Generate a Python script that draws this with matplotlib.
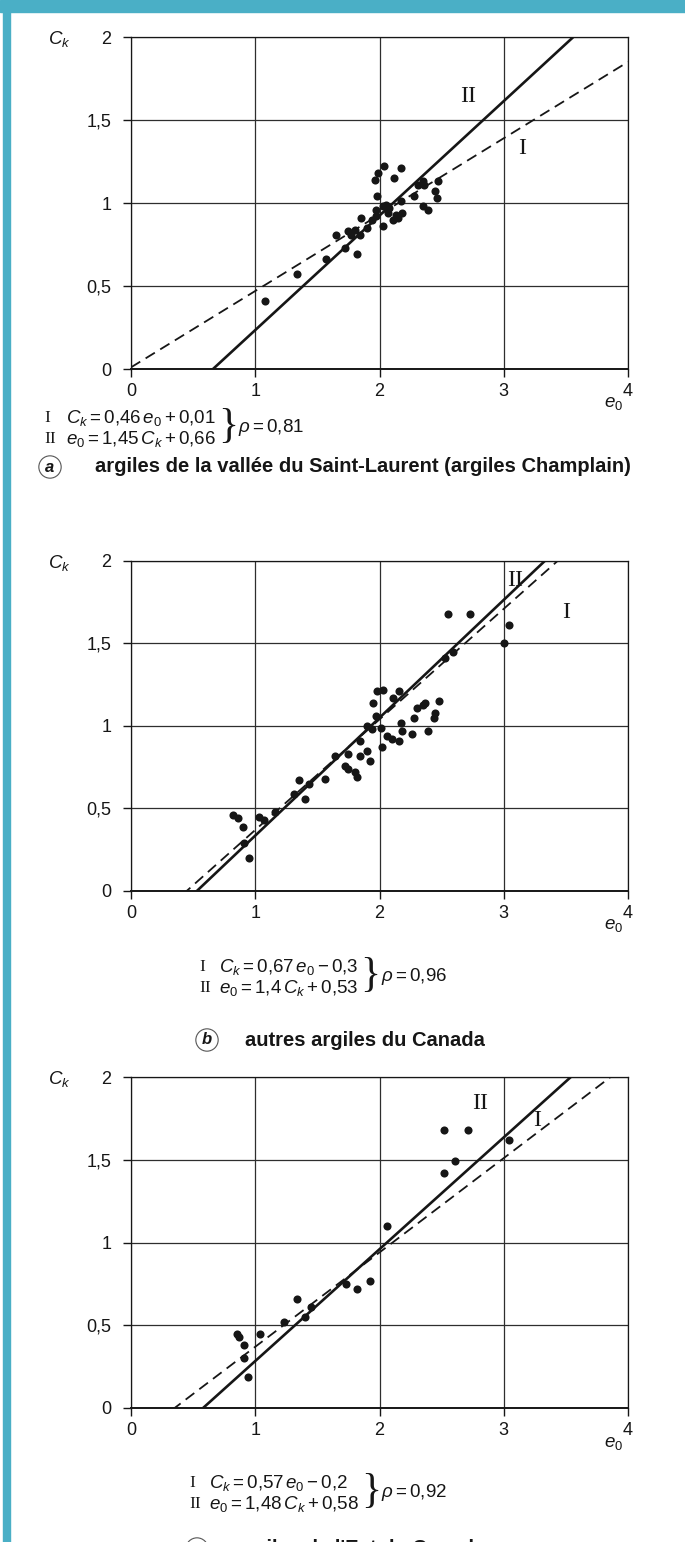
import numpy as np
import matplotlib
matplotlib.use("Agg")
import matplotlib.pyplot as plt
from matplotlib.patches import Rectangle
from matplotlib.ticker import FuncFormatter

plt.rcParams["font.family"] = ["Liberation Sans", "DejaVu Sans"]
plt.rcParams["mathtext.fontset"] = "custom"
plt.rcParams["mathtext.rm"] = "Liberation Sans"
plt.rcParams["mathtext.it"] = "Liberation Sans:italic"
plt.rcParams["mathtext.bf"] = "Liberation Sans:bold"

# --- data: void ratio e0 vs compression index Ck ---
# (a) Saint-Laurent valley clays
a_e0 = [1.08, 1.34, 1.57, 1.65, 1.72, 1.75, 1.77, 1.80, 1.82, 1.84, 1.85, 1.90, 1.94, 1.97,
        1.96, 1.99, 2.04, 1.98, 1.97, 2.03, 2.03, 2.07, 2.11, 2.15, 2.18, 2.17, 2.12, 2.17,
        2.28, 2.31, 2.35, 2.36, 2.35, 2.39, 2.45, 2.46, 2.47, 2.05, 2.08, 2.13]
a_ck = [0.41, 0.57, 0.66, 0.81, 0.73, 0.83, 0.81, 0.84, 0.69, 0.81, 0.91, 0.85, 0.90, 0.92,
        1.14, 1.18, 1.22, 1.04, 0.96, 0.98, 0.86, 0.94, 0.90, 0.91, 0.94, 1.01, 1.15, 1.21,
        1.04, 1.11, 1.13, 1.11, 0.98, 0.96, 1.07, 1.03, 1.13, 0.99, 0.97, 0.93]

# (b) other Canadian clays
b_e0 = [0.82, 0.86, 0.90, 0.91, 0.95, 1.03, 1.07, 1.16, 1.31, 1.35, 1.40, 1.43, 1.56, 1.64,
        1.72, 1.75, 1.75, 1.80, 1.82, 1.84, 1.84, 1.92, 1.90, 1.90, 1.94, 1.95, 1.98, 2.03,
        1.97, 2.01, 2.02, 2.06, 2.10, 2.11, 2.16, 2.16, 2.17, 2.18, 2.26, 2.28, 2.30, 2.35,
        2.39, 2.37, 2.44, 2.45, 2.48, 2.53, 2.59, 2.55, 2.73, 3.04, 3.00]
b_ck = [0.46, 0.44, 0.39, 0.29, 0.20, 0.45, 0.43, 0.48, 0.59, 0.67, 0.56, 0.65, 0.68, 0.82,
        0.76, 0.83, 0.74, 0.72, 0.69, 0.82, 0.91, 0.79, 0.85, 1.00, 0.98, 1.14, 1.21, 1.22,
        1.06, 0.99, 0.87, 0.94, 0.92, 1.17, 1.21, 0.91, 1.02, 0.97, 0.95, 1.05, 1.11, 1.13,
        0.97, 1.14, 1.05, 1.08, 1.15, 1.41, 1.45, 1.68, 1.68, 1.61, 1.50]

# (c)
c_e0 = [0.85, 0.87, 0.91, 0.91, 0.94, 1.04, 1.23, 1.34, 1.40, 1.45, 1.73, 1.82, 1.92, 2.06,
        2.52, 2.61, 2.52, 2.71, 3.04]
c_ck = [0.45, 0.43, 0.38, 0.30, 0.19, 0.45, 0.52, 0.66, 0.55, 0.61, 0.75, 0.72, 0.77, 1.10,
        1.42, 1.49, 1.68, 1.68, 1.62]

# regression I: Ck = m*e0 + c ; regression II: e0 = p*Ck + q
reg1_slope = [0.46, 0.67, 0.57]
reg1_icpt = [0.01, -0.3, -0.2]
reg2_slope = [1.45, 1.4, 1.48]
reg2_icpt = [0.66, 0.53, 0.58]
rho = [0.81, 0.96, 0.92]

letters = ["a", "b", "c"]
captions = ["argiles de la vallée du Saint-Laurent (argiles Champlain)",
            "autres argiles du Canada",
            "argiles de l'Est du Canada"]

x_ticks = [0, 1, 2, 3, 4]
y_ticks = [0, 0.5, 1, 1.5, 2]

W, H = 685, 1542
INK = "#161616"
TEAL = "#4aafc6"


def fx(x):
    return x / W


def fy(y):
    return 1 - y / H


def num(v):
    return f"{v:g}".replace(".", "{,}")


fig = plt.figure(figsize=(W / 100, H / 100), dpi=100)
renderer = fig.canvas.get_renderer()

# page border
fig.patches.append(Rectangle((0, fy(12)), 1, 12 / H, transform=fig.transFigure,
                             color=TEAL, zorder=0))
fig.patches.append(Rectangle((fx(3), 0), 7 / W, 1, transform=fig.transFigure,
                             color=TEAL, zorder=0))

panels = [
    (a_e0, a_ck, 37, 369, (2.71, 1.64), (3.15, 1.33)),
    (b_e0, b_ck, 561, 891, (3.09, 1.88), (3.50, 1.69)),
    (c_e0, c_ck, 1077, 1408, (2.81, 1.84), (3.27, 1.74)),
]
# equation block: x of roman numeral, x of formula, y of first line,
# circle x, caption text x, caption y
eq_layout = [
    (44, 66, 418, 50, 95, 467),
    (199, 219, 967, 207, 245, 1040),
    (189, 209, 1483, 197, 235, 1549),
]

left, right = 131, 628
for i, (xs, ys, top, bot, pos2, pos1) in enumerate(panels):
    ax = fig.add_axes([fx(left), fy(bot), (right - left) / W, (bot - top) / H])
    ax.set_xlim(0, 4)
    ax.set_ylim(0, 2)
    ax.set_xticks(x_ticks)
    ax.set_yticks(y_ticks)
    ax.yaxis.set_major_formatter(FuncFormatter(lambda v, _: f"{v:g}".replace(".", ",")))
    ax.grid(True, color="#2e2e2e", lw=0.9)
    ax.set_axisbelow(True)
    for s in ax.spines.values():
        s.set_color(INK)
        s.set_linewidth(0.9)
    ax.spines["bottom"].set_linewidth(1.4)
    ax.tick_params(direction="out", length=6, width=1, colors=INK, labelsize=13)
    ax.tick_params(axis="y", pad=8)
    ax.tick_params(axis="x", pad=4)

    ax.scatter(xs, ys, s=34, color=INK, zorder=3, linewidths=0)

    e = np.array([0.0, 4.0])
    ax.plot(e, reg1_slope[i] * e + reg1_icpt[i], color=INK, lw=1.3,
            ls=(0, (6, 3.5)), zorder=4)
    ck = np.array([0.0, 2.0])
    ax.plot(reg2_slope[i] * ck + reg2_icpt[i], ck, color=INK, lw=1.9, zorder=4)

    ax.text(*pos2, "II", family="Liberation Serif", fontsize=17, color=INK,
            ha="center", va="center")
    ax.text(*pos1, "I", family="Liberation Serif", fontsize=17, color=INK,
            ha="center", va="center")

    # axis names
    fig.text(fx(48), fy(top + 2), r"$C_k$", fontsize=13.5, color=INK, ha="left", va="center")
    fig.text(fx(614), fy(bot + 35), r"$e_0$", fontsize=13.5, color=INK, ha="center",
             va="center")

    # regression equations
    xr, xe, y1, xc, xt, yc = eq_layout[i]
    y2 = y1 + 21
    sign = "+" if reg1_icpt[i] >= 0 else "-"
    eq1 = rf"$C_k = {num(reg1_slope[i])}\,e_0 {sign} {num(abs(reg1_icpt[i]))}$"
    eq2 = rf"$e_0 = {num(reg2_slope[i])}\,C_k + {num(reg2_icpt[i])}$"
    fig.text(fx(xr), fy(y1), "I", family="Liberation Serif", fontsize=12.5, color=INK,
             va="center")
    fig.text(fx(xr), fy(y2), "II", family="Liberation Serif", fontsize=12.5, color=INK,
             va="center")
    t1 = fig.text(fx(xe), fy(y1), eq1, fontsize=13.5, color=INK, va="center")
    t2 = fig.text(fx(xe), fy(y2), eq2, fontsize=13.5, color=INK, va="center")
    x_end = max(t1.get_window_extent(renderer).x1, t2.get_window_extent(renderer).x1)
    xb = x_end + 2
    fig.text(fx(xb), fy((y1 + y2) / 2 - 2), "}", family="Liberation Serif", fontsize=30,
             color=INK, va="center")
    fig.text(fx(xb + 20), fy((y1 + y2) / 2 - 1), rf"$\rho = {num(rho[i])}$", fontsize=13.5,
             color=INK, va="center")

    # caption
    fig.text(fx(xc), fy(yc), letters[i], fontsize=12, fontweight="bold", style="italic",
             color=INK, ha="center", va="center",
             bbox=dict(boxstyle="circle,pad=0.22", fc="white", ec="#555555", lw=0.8))
    fig.text(fx(xt), fy(yc), captions[i], fontsize=14.5, fontweight="bold",
             color=INK, ha="left", va="center")

fig.savefig("out.png", dpi=100)
